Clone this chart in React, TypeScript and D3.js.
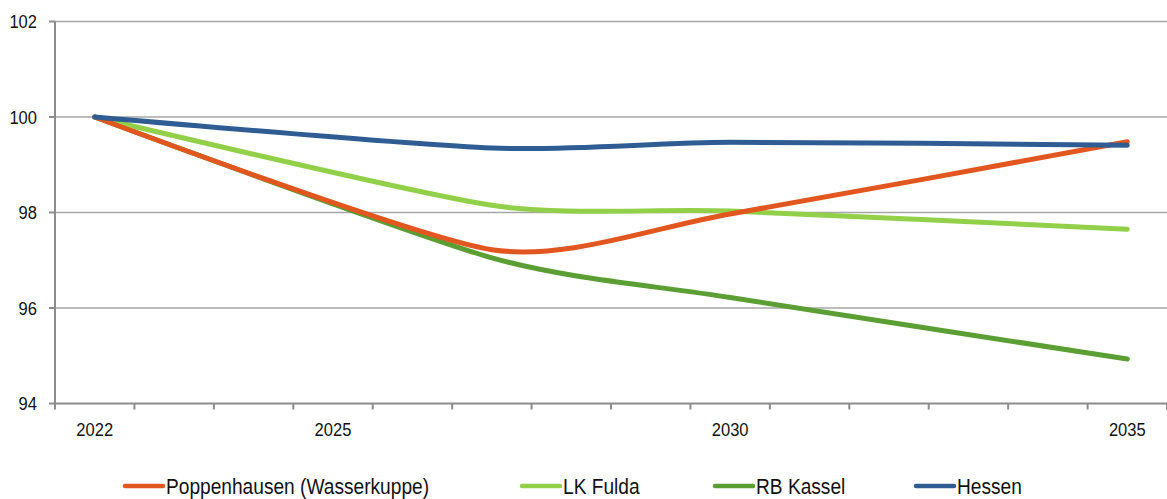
import React from "react";
import * as d3 from "d3";

const years = d3.range(2022, 2036);
const labeledYears = [2022, 2025, 2030, 2035];
const dataYears = [2022, 2027, 2030, 2035];
const yTicks = [94, 96, 98, 100, 102];

const poppenhausen = [100, 97.22, 97.97, 99.48];
const lkFulda = [100, 98.15, 98.03, 97.65];
const rbKassel = [100, 97.05, 96.22, 94.93];
const hessen = [100, 99.35, 99.47, 99.41];

const seriesNames = ["Poppenhausen (Wasserkuppe)", "LK Fulda", "RB Kassel", "Hessen"];
const seriesColors = ["#E2561F", "#92D04A", "#5A9E34", "#2F5D93"];
const seriesValues = [poppenhausen, lkFulda, rbKassel, hessen];
const drawOrder = [2, 1, 0, 3];
const legendX = [125, 522, 715, 916];

const W = 1167;
const H = 499;
const left = 55;
const right = 1167;
const top = 21.5;
const bottom = 403.5;
const font = "'Liberation Sans', Arial, sans-serif";
const sx = 0.87;

function NText(props: { x: number; y: number; anchor?: string; size: number; children: React.ReactNode }) {
  return (
    <text
      transform={`translate(${props.x},${props.y}) scale(${sx},1)`}
      textAnchor={props.anchor || "start"}
      dy="0.36em"
      fontFamily={font}
      fontSize={props.size}
      fill="#111"
    >
      {props.children}
    </text>
  );
}

export default function App() {
  const x = d3.scaleBand<number>().domain(years).range([left, right]).paddingInner(0).paddingOuter(0);
  const xc = (yr: number) => (x(yr) as number) + x.bandwidth() / 2;
  const y = d3.scaleLinear().domain([94, 102]).range([bottom, top]);
  const line = d3
    .line<number>()
    .x((_, i) => xc(dataYears[i]))
    .y((v) => y(v))
    .curve(d3.curveCardinal.tension(0.3));
  const boundaries = years.map((yr) => x(yr) as number).concat([right]);

  return (
    <svg width={W} height={H} style={{ position: "absolute", left: 0, top: 0, background: "#fff" }}>
      {yTicks.map((t) =>
        t > 94 ? (
          <line key={"g" + t} x1={left} x2={right} y1={y(t)} y2={y(t)} stroke="#a6a6a6" strokeWidth={1.6} />
        ) : null
      )}
      {yTicks.map((t) => (
        <g key={"yt" + t}>
          <line x1={left - 6} x2={left} y1={y(t)} y2={y(t)} stroke="#8c8c8c" strokeWidth={2} />
          <NText x={37} y={y(t)} anchor="end" size={19}>
            {t}
          </NText>
        </g>
      ))}
      <line x1={left} x2={left} y1={top} y2={bottom} stroke="#8c8c8c" strokeWidth={2} />
      <line x1={left} x2={right} y1={bottom} y2={bottom} stroke="#8c8c8c" strokeWidth={2} />
      {boundaries.map((b, i) => (
        <line key={"xt" + i} x1={b} x2={b} y1={bottom} y2={bottom + 6} stroke="#8c8c8c" strokeWidth={2} />
      ))}
      {labeledYears.map((yr) => (
        <NText key={"xl" + yr} x={xc(yr)} y={429} anchor="middle" size={19}>
          {yr}
        </NText>
      ))}
      {drawOrder.map((si) => (
        <path
          key={"s" + si}
          d={line(seriesValues[si]) || ""}
          fill="none"
          stroke={seriesColors[si]}
          strokeWidth={5}
          strokeLinecap="round"
          strokeLinejoin="round"
        />
      ))}
      {seriesNames.map((n, i) => (
        <g key={"lg" + i}>
          <line x1={legendX[i]} x2={legendX[i] + 38} y1={486} y2={486} stroke={seriesColors[i]} strokeWidth={4.5} strokeLinecap="round" />
          <NText x={legendX[i] + 41} y={486} size={22}>
            {n}
          </NText>
        </g>
      ))}
    </svg>
  );
}
